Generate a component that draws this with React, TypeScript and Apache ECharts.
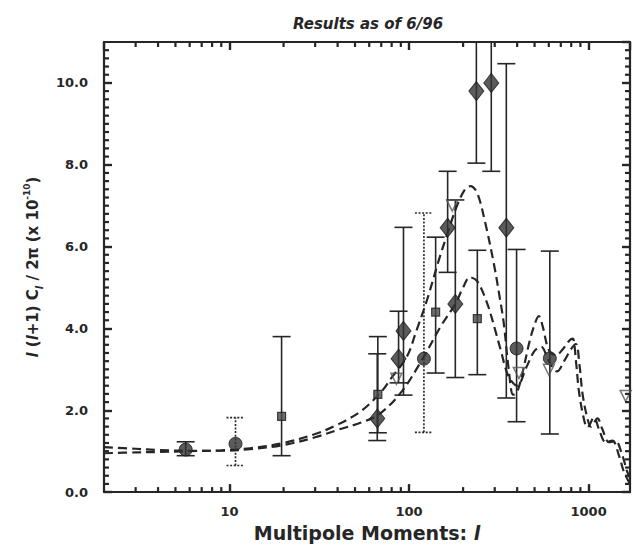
import React, { useEffect, useRef } from "react";
import * as echarts from "echarts";

const X_MIN = 2;
const X_MAX = 1700;
const Y_MAX = 11;

const INK = "#262626";
const FONT = '"DejaVu Sans", "Liberation Sans", Arial, sans-serif';

// Model power spectra: [multipole l, l(l+1)C_l/2π]
const modelHighPeak: number[][] = [
  [2, 0.95], [3, 0.97], [4, 0.98], [6, 1.0], [9, 1.02], [13, 1.07], [20, 1.2],
  [30, 1.42], [40, 1.65], [54, 1.98], [70, 2.45], [80, 2.8], [97, 3.3],
  [110, 3.95], [126, 4.7], [146, 5.65], [163, 6.3], [185, 7.0], [205, 7.4],
  [220, 7.48], [240, 7.3], [265, 6.6], [297, 5.57], [320, 4.75], [337, 4.12],
  [360, 2.95], [380, 2.38], [400, 2.45], [430, 2.95], [470, 3.7], [505, 4.15],
  [528, 4.3], [555, 4.05], [590, 3.55], [620, 3.39], [660, 3.35], [720, 3.5],
  [780, 3.7], [815, 3.75], [850, 3.2], [884, 2.45], [942, 1.78], [984, 1.58],
  [1072, 1.82], [1141, 1.54], [1244, 1.22], [1356, 1.26], [1476, 0.89],
  [1574, 0.49], [1700, 0.2],
];

const modelLowPeak: number[][] = [
  [2, 1.1], [3, 1.06], [4, 1.03], [6, 1.01], [9, 1.01], [13, 1.05], [20, 1.15],
  [30, 1.34], [40, 1.52], [54, 1.7], [68, 1.9], [90, 2.43], [118, 3.23],
  [150, 4.05], [181, 4.6], [200, 5.0], [218, 5.25], [240, 5.15], [273, 4.6],
  [300, 4.0], [324, 3.47], [358, 2.83], [400, 2.6], [450, 3.05], [500, 3.45],
  [545, 3.55], [600, 3.2], [667, 2.95], [730, 3.2], [800, 3.5], [850, 3.62],
  [890, 3.1], [925, 2.4], [985, 1.8], [1030, 1.6], [1120, 1.8], [1190, 1.55],
  [1300, 1.22], [1410, 1.25], [1540, 0.9], [1640, 0.5], [1700, 0.35],
];

// Measurements: [l, value, lower, upper]
const diamondPoints: number[][] = [
  [66.5, 1.8, 1.26, 3.38],
  [87.4, 3.26, 2.67, 4.42],
  [93.1, 3.94, 2.37, 6.47],
  [164, 6.46, 5.37, 7.84],
  [181, 4.6, 2.8, 7.14],
  [237, 9.8, 8.04, 12.8],
  [287, 10.0, 7.84, 13.0],
  [348, 6.46, 2.3, 10.47],
];

const circlePointsSolid: number[][] = [
  [5.7, 1.04, 0.89, 1.23],
  [397, 3.51, 1.72, 5.93],
  [608, 3.27, 1.42, 5.89],
];

const circlePointsDotted: number[][] = [
  [10.8, 1.18, 0.65, 1.82],
  [121, 3.26, 1.46, 6.82],
];

const squarePoints: number[][] = [
  [19.5, 1.85, 0.89, 3.8],
  [67, 2.39, 1.45, 3.8],
  [140.6, 4.4, 2.91, 6.23],
  [240, 4.24, 2.87, 5.91],
];

// Upper-limit style markers: [l, value]
const trianglePoints: number[][] = [
  [85, 2.77],
  [174, 7.0],
  [409, 2.91],
  [601, 2.99],
  [1607, 2.35],
];

const xTickLabels = [10, 100, 1000];

function errorBars(dotted: boolean) {
  return (_params: any, api: any) => {
    const l = api.value(0);
    const lo = api.coord([l, api.value(1)]);
    const hi = api.coord([l, api.value(2)]);
    const half = 9;
    const style = {
      stroke: INK,
      lineWidth: 1.6,
      fill: null,
      lineDash: dotted ? [2, 1.6] : null,
    };
    return {
      type: "group",
      children: [
        { type: "line", shape: { x1: lo[0], y1: lo[1], x2: hi[0], y2: hi[1] }, style },
        { type: "line", shape: { x1: hi[0] - half, y1: hi[1], x2: hi[0] + half, y2: hi[1] }, style },
        { type: "line", shape: { x1: lo[0] - half, y1: lo[1], x2: lo[0] + half, y2: lo[1] }, style },
      ],
    };
  };
}

// Minor tick positions: 2..9 within each decade on the log axis, every 0.2 on the value axis.
// Each item: [l, value, orientation] (0 = tick on the horizontal frame, 1 = on the vertical frame)
const minorTicks: number[][] = [];
[1, 10, 100, 1000].forEach((d) => {
  for (let m = 2; m <= 9; m++) {
    const l = m * d;
    if (l > X_MIN && l < X_MAX) minorTicks.push([l, 0, 0]);
  }
});
for (let i = 1; i < Y_MAX * 5; i++) {
  if (i % 10 !== 0) minorTicks.push([X_MIN, i / 5, 1]);
}

export default function App() {
  const ref = useRef<HTMLDivElement>(null);

  useEffect(() => {
    if (!ref.current) return;
    const chart = echarts.init(ref.current, null, { renderer: "svg" });

    const axisLine = { show: true, onZero: false, lineStyle: { color: INK, width: 2.2 } };
    const axisTick = { show: true, inside: true, length: 8, lineStyle: { color: INK, width: 2.4 } };
    const labelStyle = { fontFamily: FONT, fontWeight: "bold" as const, fontSize: 13, color: INK };

    const logAxisBase = {
      type: "log" as const,
      logBase: 10,
      min: X_MIN,
      max: X_MAX,
      axisLine,
      axisTick,
      splitLine: { show: false },
      minorTick: { show: false },
    };
    const valueAxisBase = {
      type: "value" as const,
      min: 0,
      max: Y_MAX,
      interval: 2,
      axisLine,
      axisTick,
      splitLine: { show: false },
    };

    const markerStyle = { color: "#333333", borderColor: "#1a1a1a", borderWidth: 1 };

    chart.setOption({
      animation: false,
      backgroundColor: "#ffffff",
      grid: { left: 104, right: 3, top: 42, bottom: 50, containLabel: false },
      graphic: [
        {
          type: "text",
          x: 368,
          y: 24,
          style: {
            text: "Results as of 6/96",
            fontFamily: FONT,
            fontWeight: "bold",
            fontStyle: "italic",
            fontSize: 15,
            fill: INK,
            align: "center",
            verticalAlign: "middle",
          },
        },
      ],
      xAxis: [
        {
          ...logAxisBase,
          position: "bottom",
          axisLabel: {
            ...labelStyle,
            margin: 13,
            showMinLabel: false,
            showMaxLabel: false,
            formatter: (v: number) =>
              xTickLabels.includes(Math.round(v)) ? String(Math.round(v)) : "",
          },
          name: "Multipole Moments: {it|l}",
          nameLocation: "middle",
          nameGap: 26,
          nameTextStyle: {
            fontFamily: FONT,
            fontWeight: "bold",
            fontSize: 19,
            color: INK,
            rich: {
              it: { fontFamily: FONT, fontWeight: "bold", fontStyle: "italic", fontSize: 19, color: INK },
            },
          },
        },
        { ...logAxisBase, position: "top", axisLabel: { show: false } },
      ],
      yAxis: [
        {
          ...valueAxisBase,
          position: "left",
          axisLabel: {
            ...labelStyle,
            margin: 16,
            showMaxLabel: false,
            formatter: (v: number) => v.toFixed(1),
          },
          name: "{it|l} {n|(}{it|l}{n|+1) C}{sub|l}{n| / 2π (x 10}{sup|-10}{n|)}",
          nameLocation: "middle",
          nameGap: 60,
          nameTextStyle: {
            fontFamily: FONT,
            fontWeight: "bold",
            fontSize: 15,
            color: INK,
            rich: {
              n: { fontFamily: FONT, fontWeight: "bold", fontSize: 15, color: INK, lineHeight: 22 },
              it: { fontFamily: FONT, fontWeight: "bold", fontStyle: "italic", fontSize: 15, color: INK, lineHeight: 22 },
              sub: { fontFamily: FONT, fontWeight: "bold", fontStyle: "italic", fontSize: 10, color: INK, lineHeight: 12, verticalAlign: "bottom" },
              sup: { fontFamily: FONT, fontWeight: "bold", fontSize: 9, color: INK, lineHeight: 10, verticalAlign: "top" },
            },
          },
        },
        { ...valueAxisBase, position: "right", axisLabel: { show: false } },
      ],
      series: [
        {
          type: "custom",
          name: "minor ticks",
          encode: { x: 0, y: 1 },
          data: minorTicks,
          z: 6,
          renderItem: (_p: any, api: any) => {
            const s = { stroke: INK, lineWidth: 2.2, fill: null };
            const len = 5;
            if (api.value(2) === 0) {
              const l = api.value(0);
              const b = api.coord([l, 0]);
              const t = api.coord([l, Y_MAX]);
              return {
                type: "group",
                children: [
                  { type: "line", shape: { x1: b[0], y1: b[1], x2: b[0], y2: b[1] - len }, style: s },
                  { type: "line", shape: { x1: t[0], y1: t[1], x2: t[0], y2: t[1] + len }, style: s },
                ],
              };
            }
            const v = api.value(1);
            const a = api.coord([X_MIN, v]);
            const r = api.coord([X_MAX, v]);
            return {
              type: "group",
              children: [
                { type: "line", shape: { x1: a[0], y1: a[1], x2: a[0] + len, y2: a[1] }, style: s },
                { type: "line", shape: { x1: r[0], y1: r[1], x2: r[0] - len, y2: r[1] }, style: s },
              ],
            };
          },
        },
        {
          type: "line",
          name: "model A",
          data: modelHighPeak,
          smooth: 0.35,
          showSymbol: false,
          clip: true,
          lineStyle: { color: INK, width: 2.2, type: [9, 5] },
          z: 2,
        },
        {
          type: "line",
          name: "model B",
          data: modelLowPeak,
          smooth: 0.35,
          showSymbol: false,
          clip: true,
          lineStyle: { color: INK, width: 2.2, type: [9, 5] },
          z: 2,
        },
        {
          type: "custom",
          name: "error bars",
          clip: true,
          data: [...diamondPoints, ...circlePointsSolid, ...squarePoints].map((p) => [p[0], p[2], p[3]]),
          renderItem: errorBars(false),
          z: 3,
        },
        {
          type: "custom",
          name: "error bars dotted",
          clip: true,
          data: circlePointsDotted.map((p) => [p[0], p[2], p[3]]),
          renderItem: errorBars(true),
          z: 3,
        },
        {
          type: "scatter",
          name: "diamonds",
          symbol: "diamond",
          symbolSize: [15, 19],
          data: diamondPoints.map((p) => [p[0], p[1]]),
          itemStyle: markerStyle,
          z: 4,
        },
        {
          type: "scatter",
          name: "circles",
          symbol: "circle",
          symbolSize: 13,
          data: [...circlePointsSolid, ...circlePointsDotted].map((p) => [p[0], p[1]]),
          itemStyle: markerStyle,
          z: 4,
        },
        {
          type: "scatter",
          name: "squares",
          symbol: "rect",
          symbolSize: 8,
          data: squarePoints.map((p) => [p[0], p[1]]),
          itemStyle: { color: "#4a4a4a", borderColor: "#1e1e1e", borderWidth: 1.2 },
          z: 4,
        },
        {
          type: "scatter",
          name: "triangles",
          symbol: "triangle",
          symbolRotate: 180,
          symbolSize: 11,
          data: trianglePoints,
          itemStyle: { color: "rgba(255,255,255,0)", borderColor: "#555", borderWidth: 1.5 },
          z: 4,
        },
      ],
    });

    return () => chart.dispose();
  }, []);

  return (
    <div
      ref={ref}
      style={{ position: "absolute", left: 0, top: 0, width: 633, height: 547 }}
    />
  );
}
